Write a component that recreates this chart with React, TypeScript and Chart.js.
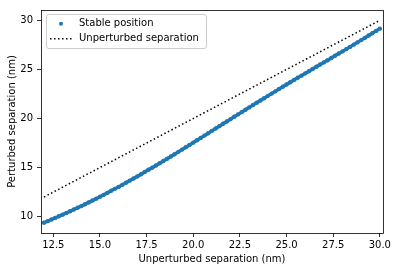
import React, { useEffect, useRef } from "react";
import { Chart, registerables } from "chart.js";

Chart.register(...registerables);

// ---- data ----
const stableX: number[] = [
  12.0, 12.2, 12.4, 12.6, 12.8, 13.0, 13.2, 13.4, 13.6, 13.8,
  14.0, 14.2, 14.4, 14.6, 14.8, 15.0, 15.2, 15.4, 15.6, 15.8,
  16.0, 16.2, 16.4, 16.6, 16.8, 17.0, 17.2, 17.4, 17.6, 17.8,
  18.0, 18.2, 18.4, 18.6, 18.8, 19.0, 19.2, 19.4, 19.6, 19.8,
  20.0, 20.2, 20.4, 20.6, 20.8, 21.0, 21.2, 21.4, 21.6, 21.8,
  22.0, 22.2, 22.4, 22.6, 22.8, 23.0, 23.2, 23.4, 23.6, 23.8,
  24.0, 24.2, 24.4, 24.6, 24.8, 25.0, 25.2, 25.4, 25.6, 25.8,
  26.0, 26.2, 26.4, 26.6, 26.8, 27.0, 27.2, 27.4, 27.6, 27.8,
  28.0, 28.2, 28.4, 28.6, 28.8, 29.0, 29.2, 29.4, 29.6, 29.8,
  30.0,
];
const stableY: number[] = [
  9.38, 9.54, 9.71, 9.87, 10.04, 10.2, 10.37, 10.55, 10.72, 10.9,
  11.07, 11.26, 11.45, 11.64, 11.83, 12.02, 12.22, 12.42, 12.63, 12.83,
  13.03, 13.24, 13.46, 13.67, 13.89, 14.1, 14.32, 14.54, 14.77, 14.99,
  15.21, 15.44, 15.67, 15.9, 16.13, 16.36, 16.6, 16.83, 17.07, 17.3,
  17.54, 17.78, 18.02, 18.26, 18.5, 18.74, 18.98, 19.22, 19.46, 19.7,
  19.94, 20.18, 20.42, 20.65, 20.89, 21.13, 21.37, 21.6, 21.84, 22.07,
  22.31, 22.54, 22.77, 23.01, 23.24, 23.47, 23.7, 23.92, 24.15, 24.37,
  24.6, 24.82, 25.05, 25.27, 25.5, 25.72, 25.94, 26.17, 26.39, 26.62,
  26.84, 27.07, 27.3, 27.53, 27.76, 27.99, 28.22, 28.46, 28.69, 28.93,
  29.16,
];
const unperturbedX: number[] = [12, 30];
const unperturbedY: number[] = [12, 30];

const seriesLabels: string[] = ["Stable position", "Unperturbed separation"];
const xTickValues: number[] = [12.5, 15.0, 17.5, 20.0, 22.5, 25.0, 27.5, 30.0];
const yTickValues: number[] = [10, 15, 20, 25, 30];
const xTitle = "Unperturbed separation (nm)";
const yTitle = "Perturbed separation (nm)";

const BLUE = "#1f77b4";
const FONT = "DejaVu Sans";

export default function App() {
  const canvasRef = useRef<HTMLCanvasElement | null>(null);

  useEffect(() => {
    const canvas = canvasRef.current;
    if (!canvas) return;

    const framePlugin = {
      id: "frameAndLegend",
      afterDraw(chart: any) {
        const ctx = chart.ctx as CanvasRenderingContext2D;
        const { left, top, right, bottom } = chart.chartArea;
        ctx.save();
        // axes frame (all four spines)
        ctx.strokeStyle = "#000";
        ctx.lineWidth = 0.8;
        ctx.strokeRect(left + 0.5, top + 0.5, right - left, bottom - top);

        // legend box
        const bx = left + 5.5;
        const by = top + 4.5;
        const bw = 160;
        const bh = 34;
        const r = 2.5;
        ctx.beginPath();
        ctx.moveTo(bx + r, by);
        ctx.lineTo(bx + bw - r, by);
        ctx.arcTo(bx + bw, by, bx + bw, by + r, r);
        ctx.lineTo(bx + bw, by + bh - r);
        ctx.arcTo(bx + bw, by + bh, bx + bw - r, by + bh, r);
        ctx.lineTo(bx + r, by + bh);
        ctx.arcTo(bx, by + bh, bx, by + bh - r, r);
        ctx.lineTo(bx, by + r);
        ctx.arcTo(bx, by, bx + r, by, r);
        ctx.closePath();
        ctx.fillStyle = "rgba(255,255,255,0.8)";
        ctx.fill();
        ctx.strokeStyle = "#cccccc";
        ctx.lineWidth = 1;
        ctx.stroke();

        const row1 = by + 9.2;
        const row2 = by + 24.2;
        // marker sample
        ctx.fillStyle = BLUE;
        ctx.beginPath();
        ctx.arc(bx + 14.5, row1, 2, 0, Math.PI * 2);
        ctx.fill();
        // dotted sample
        ctx.strokeStyle = "#000";
        ctx.lineWidth = 1.5;
        ctx.setLineDash([1.5, 2.5]);
        ctx.beginPath();
        ctx.moveTo(bx + 3.5, row2);
        ctx.lineTo(bx + 25.5, row2);
        ctx.stroke();
        ctx.setLineDash([]);
        // texts
        ctx.fillStyle = "#000";
        ctx.font = `10px "${FONT}"`;
        ctx.textBaseline = "middle";
        ctx.textAlign = "left";
        ctx.fillText(seriesLabels[0], bx + 32.5, row1);
        ctx.fillText(seriesLabels[1], bx + 32.5, row2);
        ctx.restore();
      },
    };

    const chart = new Chart(canvas, {
      type: "scatter",
      data: {
        datasets: [
          {
            label: seriesLabels[0],
            data: stableX.map((x, i) => ({ x, y: stableY[i] })),
            backgroundColor: BLUE,
            borderColor: BLUE,
            borderWidth: 3.4,
            pointRadius: 2.2,
            pointBorderWidth: 0,
            showLine: true,
          },
          {
            label: seriesLabels[1],
            data: unperturbedX.map((x, i) => ({ x, y: unperturbedY[i] })),
            borderColor: "#000",
            backgroundColor: "#000",
            borderWidth: 1.5,
            borderDash: [1.5, 2.5],
            borderCapStyle: "butt",
            pointRadius: 0,
            showLine: true,
          },
        ],
      },
      options: {
        responsive: false,
        animation: false,
        devicePixelRatio: 1,
        layout: { padding: { left: 0, right: 16, top: 7, bottom: 0 } },
        plugins: {
          legend: { display: false },
          tooltip: { enabled: false },
        },
        scales: {
          x: {
            type: "linear",
            position: "bottom",
            min: 11.84,
            max: 30.17,
            afterBuildTicks: (scale: any) => {
              scale.ticks = xTickValues.map((v) => ({ value: v }));
            },
            afterFit: (scale: any) => {
              scale.height = 39;
            },
            grid: {
              display: true,
              drawOnChartArea: false,
              drawTicks: true,
              tickLength: 4,
              tickColor: "#000",
              tickWidth: 0.8,
            },
            border: { display: false },
            ticks: {
              color: "#000",
              font: { family: FONT, size: 10 },
              padding: 2,
              maxRotation: 0,
              autoSkip: false,
              callback: (v: any) => Number(v).toFixed(1),
            },
            title: {
              display: true,
              text: xTitle,
              color: "#000",
              font: { family: FONT, size: 10 },
              padding: { top: 0, bottom: 7 },
            },
          },
          y: {
            type: "linear",
            position: "left",
            min: 8.33,
            max: 31.06,
            afterBuildTicks: (scale: any) => {
              scale.ticks = yTickValues.map((v) => ({ value: v }));
            },
            afterFit: (scale: any) => {
              scale.width = 41;
            },
            grid: {
              display: true,
              drawOnChartArea: false,
              drawTicks: true,
              tickLength: 4,
              tickColor: "#000",
              tickWidth: 0.8,
            },
            border: { display: false },
            ticks: {
              color: "#000",
              font: { family: FONT, size: 10 },
              padding: 4,
              autoSkip: false,
              callback: (v: any) => String(v),
            },
            title: {
              display: true,
              text: yTitle,
              color: "#000",
              font: { family: FONT, size: 10 },
              padding: { top: 6, bottom: 0 },
            },
          },
        },
      },
      plugins: [framePlugin],
    } as any);

    return () => {
      chart.destroy();
    };
  }, []);

  return (
    <div
      style={{
        position: "absolute",
        left: 0,
        top: 0,
        width: 399,
        height: 272,
        background: "#fff",
      }}
    >
      <canvas ref={canvasRef} width={399} height={272} />
    </div>
  );
}
